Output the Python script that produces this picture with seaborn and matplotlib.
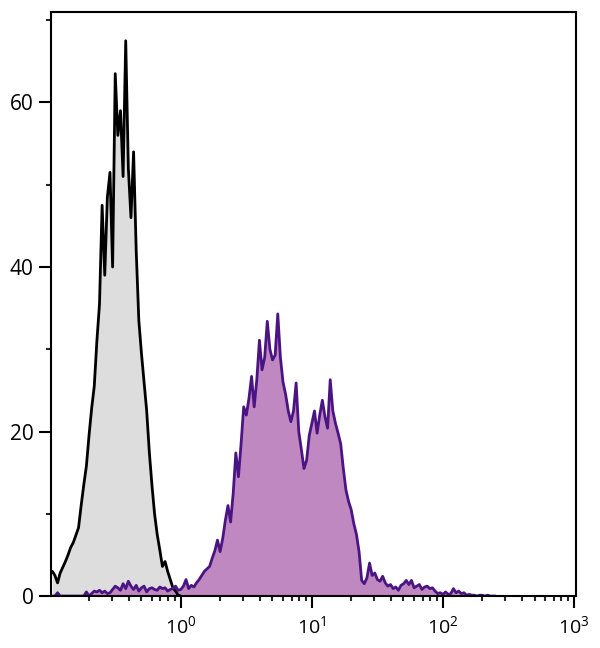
import matplotlib
matplotlib.use("Agg")
import matplotlib.pyplot as plt
import matplotlib.ticker as mticker
import numpy as np
import pandas as pd
import seaborn as sns

# log10 channel grid (0.02 decade steps)
grey_start = -0.98
grey_counts = [
    3.0, 2.5, 1.6, 2.8, 3.5, 4.2, 5.0, 5.9, 6.5, 7.4,
    8.3, 11.0, 13.5, 15.8, 19.5, 22.8, 25.5, 31.0, 35.5, 47.5,
    39.0, 48.5, 51.5, 40.0, 63.5, 56.0, 59.0, 51.0, 67.5, 52.0,
    46.0, 54.0, 42.0, 33.5, 29.5, 26.0, 22.5, 17.5, 13.5, 10.0,
    7.5, 5.6, 3.6, 4.2, 3.0, 2.0, 1.0, 0.6, 0.1, 0.0,
]

purple_start = -0.98
purple_counts = [
    # -0.98 .. -0.02
    0.0, 0.0, 0.4, 0.0, 0.0, 0.0, 0.0, 0.0, 0.0, 0.0,
    0.0, 0.0, 0.0, 0.5, 0.0, 0.3, 0.6, 0.5, 0.7, 0.4,
    0.6, 0.3, 0.4, 0.8, 1.2, 1.0, 0.7, 1.5, 0.9, 1.8,
    1.2, 0.8, 1.3, 0.6, 1.0, 1.2, 0.5, 0.9, 1.0, 0.8,
    0.7, 1.1, 0.9, 1.0, 0.6, 0.8, 0.9, 1.2, 0.7,
    # 0.00 .. 0.98
    0.8, 1.2, 2.0, 0.9, 1.3, 1.1, 1.6, 2.0, 2.5, 3.0,
    3.3, 3.6, 4.6, 5.5, 6.8, 5.4, 7.0, 9.2, 11.0, 9.0,
    12.5, 17.4, 14.5, 18.5, 23.0, 22.0, 24.0, 26.7, 23.0, 26.3,
    31.1, 27.5, 29.0, 33.4, 30.0, 28.7, 29.3, 34.3, 29.0, 26.0,
    24.5, 22.5, 21.2, 22.5, 25.9, 20.0, 17.8, 15.5, 16.5, 19.5,
    # 1.00 .. 1.98
    21.0, 22.5, 19.8, 22.0, 23.8, 21.8, 20.4, 26.3, 22.5, 21.0,
    19.8, 18.5, 15.5, 12.9, 11.5, 10.5, 8.8, 7.5, 5.4, 1.9,
    1.5, 2.2, 4.0, 2.5, 2.8, 2.0, 1.8, 2.4, 1.6, 1.2,
    1.4, 0.9, 1.1, 0.7, 1.3, 1.5, 1.9, 1.4, 1.9, 1.0,
    1.2, 1.4, 0.8, 1.1, 1.2, 0.9, 1.0, 0.6, 0.3, 0.4,
    # 2.00 .. 2.40
    0.2, 0.5, 0.2, 0.3, 0.9, 0.4, 0.6, 0.3, 0.4, 0.1,
    0.2, 0.1, 0.1, 0.0, 0.1, 0.1, 0.0, 0.1, 0.0, 0.0,
    0.0,
]

x_ticks = [1, 10, 100, 1000]
x_tick_labels = [r"$\mathregular{10^{0}}$", r"$\mathregular{10^{1}}$",
                 r"$\mathregular{10^{2}}$", r"$\mathregular{10^{3}}$"]
y_ticks = [0, 20, 40, 60]


def to_frame(start, counts):
    logs = start + 0.02 * np.arange(len(counts))
    return pd.DataFrame({"x": 10 ** logs, "count": counts})


grey = to_frame(grey_start, grey_counts)
purple = to_frame(purple_start, purple_counts)

sns.set_style("ticks")
plt.rcParams["font.family"] = ["Open Sans", "DejaVu Sans"]

fig = plt.figure(figsize=(6, 6.48), dpi=100)
ax = fig.add_axes([0.085, 0.0802, 0.875, 0.9013])

ax.fill_between(grey["x"], 0, grey["count"], color="#dddddd", lw=0)
sns.lineplot(data=grey, x="x", y="count", color="black", lw=2.0, ax=ax)
ax.fill_between(purple["x"], 0, purple["count"], color="#bf88c0", lw=0)
sns.lineplot(data=purple, x="x", y="count", color="#4b1483", lw=2.0, ax=ax)

ax.set_xscale("log")
ax.set_xlim(10 ** -0.99, 10 ** 3.015)
ax.set_ylim(0, 71)
ax.set_xticks(x_ticks)
ax.set_xticklabels(x_tick_labels)
ax.xaxis.set_minor_locator(mticker.LogLocator(base=10, subs=np.arange(2, 10)))
ax.xaxis.set_minor_formatter(mticker.NullFormatter())
ax.set_yticks(y_ticks)
ax.yaxis.set_minor_locator(mticker.MultipleLocator(10))
ax.set_xlabel("")
ax.set_ylabel("")

for s in ax.spines.values():
    s.set_linewidth(1.5)
    s.set_color("black")
ax.tick_params(which="major", length=8.5, width=1.5, colors="black")
ax.tick_params(which="minor", length=3.5, width=1.5)
ax.tick_params(axis="y", labelsize=15, pad=4)
ax.tick_params(axis="x", labelsize=14, pad=5)

fig.savefig("out.png", dpi=100)
